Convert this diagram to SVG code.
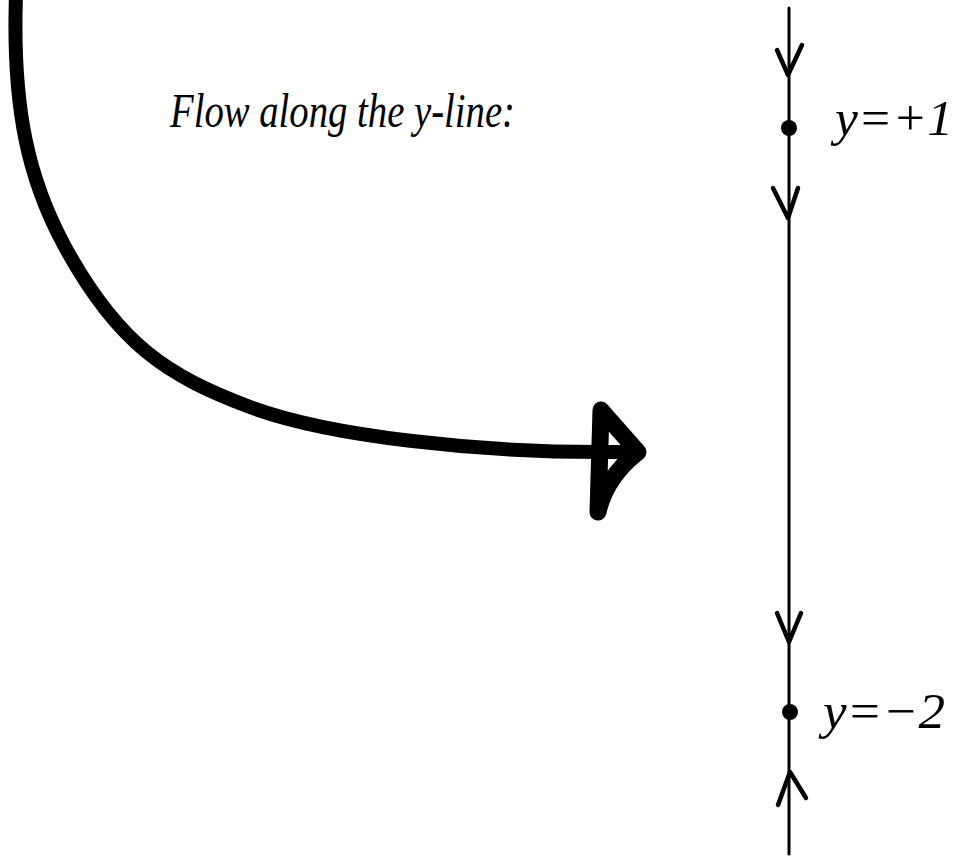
<svg xmlns="http://www.w3.org/2000/svg" width="958" height="857" viewBox="0 0 958 857">
<style>
.hand{font-family:"Liberation Serif","DejaVu Serif",serif;font-style:italic;fill:#000}
.ln{stroke:#000;fill:none;stroke-linecap:round;stroke-linejoin:round}
</style>
<rect width="958" height="857" fill="#fff"/>
<g id="title"><text class="hand" x="170" y="127" font-size="48" textLength="345" lengthAdjust="spacingAndGlyphs">Flow along the y-line:</text></g>
<g id="connectors">
<path class="ln" stroke-width="14" d="M16,-5 C12,110 29,180 64,245 C118,345 168,376 250,407 C330,437 480,452 600,452 L625,452"/>
<path class="ln" stroke-width="17" d="M601,410 L638,452 C615,470 603,490 598,512 Z"/>
<line class="ln" stroke-width="3" x1="789" y1="8" x2="789" y2="854"/>
<path class="ln" stroke-width="4.5" d="M777,50 L788,75 L802,45"/>
<path class="ln" stroke-width="4.5" d="M773,188 L788,218 L798,188"/>
<path class="ln" stroke-width="4.5" d="M777,613 L789,642 L801,613"/>
<path class="ln" stroke-width="4.5" d="M778,805 L790,772 L806,798"/>
</g>
<g id="fixed1"><circle cx="789" cy="128" r="8" fill="#000"/><text class="hand" x="835" y="135" font-size="50" textLength="118" lengthAdjust="spacingAndGlyphs">y=+1</text></g>
<g id="fixed2"><circle cx="790" cy="712" r="8" fill="#000"/><text class="hand" x="823" y="728" font-size="50" textLength="122" lengthAdjust="spacingAndGlyphs">y=−2</text></g>
</svg>
